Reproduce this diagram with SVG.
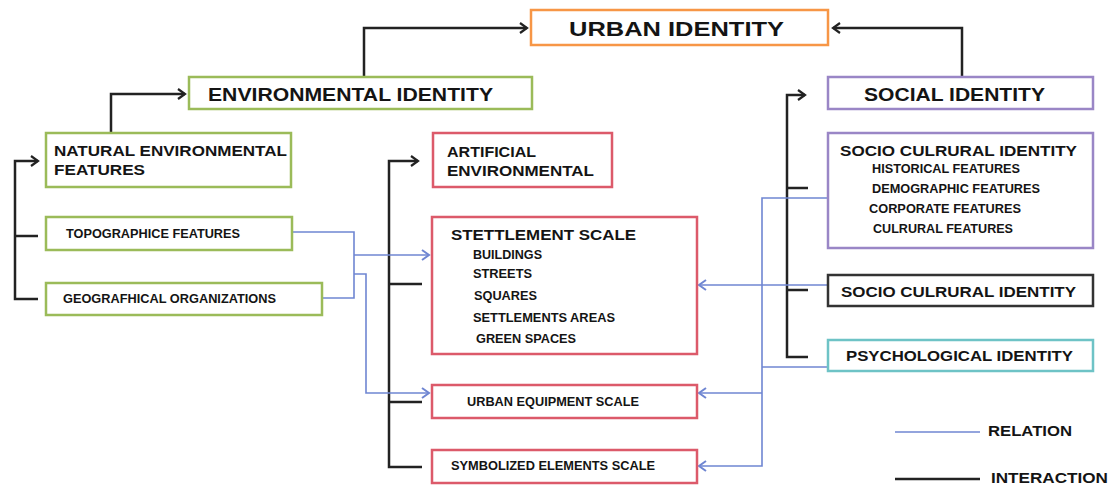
<svg xmlns="http://www.w3.org/2000/svg" width="1110" height="488" viewBox="0 0 1110 488">
<style>
text{font-family:"Liberation Sans",Arial,sans-serif;font-weight:bold;fill:#141414}
.box{fill:#fff;stroke-width:2.5}
.g{stroke:#9bbb59}.r{stroke:#dc5a6a}.o{stroke:#f79646}.p{stroke:#9a86c6}.k{stroke:#333}.t{stroke:#6ec3c6}
.big{font-size:21px}.h{font-size:18px}.m{font-size:15px}.s{font-size:12px}.l{font-size:14px}
.int{fill:none;stroke:#222;stroke-width:2.5}
.rel{fill:none;stroke:#6f86d2;stroke-width:1.6}
</style>
<defs>
<marker id="ak" markerUnits="userSpaceOnUse" markerWidth="12" markerHeight="14" refX="10" refY="7" orient="auto"><path d="M3,2 L10,7 L3,12" fill="none" stroke="#222" stroke-width="2.2"/></marker>
<marker id="ab" markerUnits="userSpaceOnUse" markerWidth="12" markerHeight="14" refX="10" refY="7" orient="auto"><path d="M3,2 L10,7 L3,12" fill="none" stroke="#6f86d2" stroke-width="2"/></marker>
</defs>
<rect width="1110" height="488" fill="#fff"/>
<g id="connectors">
<path class="int" d="M364,76 V28 H527" marker-end="url(#ak)"/>
<path class="int" d="M111,133 V94 H185" marker-end="url(#ak)"/>
<path class="int" d="M962,76 V28 H833" marker-end="url(#ak)"/>
<path class="int" d="M38,299 H15 V161 H38" marker-end="url(#ak)"/>
<path class="int" d="M15,236 H38"/>
<path class="int" d="M422,467 H389 V161 H418" marker-end="url(#ak)"/>
<path class="int" d="M389,284 H422 M389,402 H422"/>
<path class="int" d="M808,357 H787 V95 H805" marker-end="url(#ak)"/>
<path class="int" d="M787,188 H808 M787,290 H808"/>
<path class="rel" d="M292,232 H354 V298 H322"/>
<path class="rel" d="M354,255 H429" marker-end="url(#ab)"/>
<path class="rel" d="M354,274 H366 V393 H429" marker-end="url(#ab)"/>
<path class="rel" d="M828,198 H762 V466 H699" marker-end="url(#ab)"/>
<path class="rel" d="M828,285 H699" marker-end="url(#ab)"/>
<path class="rel" d="M828,367 H762"/>
<path class="rel" d="M762,393 H699" marker-end="url(#ab)"/>
</g>
<g id="urban-identity"><rect class="box o" x="531" y="10" width="297" height="35"/><text class="big" x="569" y="36" textLength="215" lengthAdjust="spacingAndGlyphs">URBAN IDENTITY</text></g>
<g id="environmental-identity"><rect class="box g" x="189" y="77" width="343" height="32"/><text class="h" x="208" y="101" textLength="285" lengthAdjust="spacingAndGlyphs">ENVIRONMENTAL IDENTITY</text></g>
<g id="social-identity"><rect class="box p" x="828" y="77" width="265" height="32"/><text class="h" x="864" y="101" textLength="181" lengthAdjust="spacingAndGlyphs">SOCIAL IDENTITY</text></g>
<g id="natural"><rect class="box g" x="46" y="133" width="245" height="54"/><text class="m" x="54" y="156" textLength="233" lengthAdjust="spacingAndGlyphs">NATURAL ENVIRONMENTAL</text><text class="m" x="54" y="175" textLength="91" lengthAdjust="spacingAndGlyphs">FEATURES</text></g>
<g id="artificial"><rect class="box r" x="433" y="133" width="179" height="54"/><text class="m" x="447" y="157" textLength="89" lengthAdjust="spacingAndGlyphs">ARTIFICIAL</text><text class="m" x="447" y="176" textLength="147" lengthAdjust="spacingAndGlyphs">ENVIRONMENTAL</text></g>
<g id="socio-cultural-1"><rect class="box p" x="828" y="133" width="265" height="115"/><text class="m" x="840" y="156" textLength="237" lengthAdjust="spacingAndGlyphs">SOCIO CULRURAL IDENTITY</text>
<text class="s" x="872" y="173" textLength="148" lengthAdjust="spacingAndGlyphs">HISTORICAL FEATURES</text>
<text class="s" x="872" y="193" textLength="168" lengthAdjust="spacingAndGlyphs">DEMOGRAPHIC FEATURES</text>
<text class="s" x="869" y="213" textLength="152" lengthAdjust="spacingAndGlyphs">CORPORATE FEATURES</text>
<text class="s" x="873" y="233" textLength="140" lengthAdjust="spacingAndGlyphs">CULRURAL FEATURES</text></g>
<g id="topographice"><rect class="box g" x="46" y="217" width="246" height="33"/><text class="s" x="66" y="238" textLength="174" lengthAdjust="spacingAndGlyphs">TOPOGRAPHICE FEATURES</text></g>
<g id="geografhical"><rect class="box g" x="46" y="283" width="276" height="32"/><text class="s" x="63" y="303" textLength="213" lengthAdjust="spacingAndGlyphs">GEOGRAFHICAL ORGANIZATIONS</text></g>
<g id="settlement"><rect class="box r" x="432" y="217" width="265" height="137"/><text class="m" x="451" y="240" textLength="185" lengthAdjust="spacingAndGlyphs">STETTLEMENT SCALE</text>
<text class="s" x="473" y="259" textLength="69" lengthAdjust="spacingAndGlyphs">BUILDINGS</text>
<text class="s" x="473" y="278" textLength="59" lengthAdjust="spacingAndGlyphs">STREETS</text>
<text class="s" x="474" y="300" textLength="63" lengthAdjust="spacingAndGlyphs">SQUARES</text>
<text class="s" x="473" y="322" textLength="142" lengthAdjust="spacingAndGlyphs">SETTLEMENTS AREAS</text>
<text class="s" x="476" y="343" textLength="100" lengthAdjust="spacingAndGlyphs">GREEN SPACES</text></g>
<g id="socio-cultural-2"><rect class="box k" x="828" y="275" width="265" height="31"/><text class="m" x="841" y="297" textLength="235" lengthAdjust="spacingAndGlyphs">SOCIO CULRURAL IDENTITY</text></g>
<g id="psychological"><rect class="box t" x="828" y="340" width="265" height="31"/><text class="m" x="846" y="361" textLength="227" lengthAdjust="spacingAndGlyphs">PSYCHOLOGICAL IDENTITY</text></g>
<g id="urban-equipment"><rect class="box r" x="432" y="385" width="265" height="33"/><text class="s" x="467" y="406" textLength="172" lengthAdjust="spacingAndGlyphs">URBAN EQUIPMENT SCALE</text></g>
<g id="symbolized"><rect class="box r" x="432" y="450" width="265" height="33"/><text class="s" x="451" y="470" textLength="204" lengthAdjust="spacingAndGlyphs">SYMBOLIZED ELEMENTS SCALE</text></g>
<g id="legend">
<line class="rel" x1="895" y1="432" x2="980" y2="432" stroke-width="2"/>
<text class="l" x="988" y="436" textLength="84" lengthAdjust="spacingAndGlyphs">RELATION</text>
<line class="int" x1="895" y1="479" x2="980" y2="479" stroke-width="3"/>
<text class="l" x="991" y="483" textLength="117" lengthAdjust="spacingAndGlyphs">INTERACTION</text>
</g>
</svg>
